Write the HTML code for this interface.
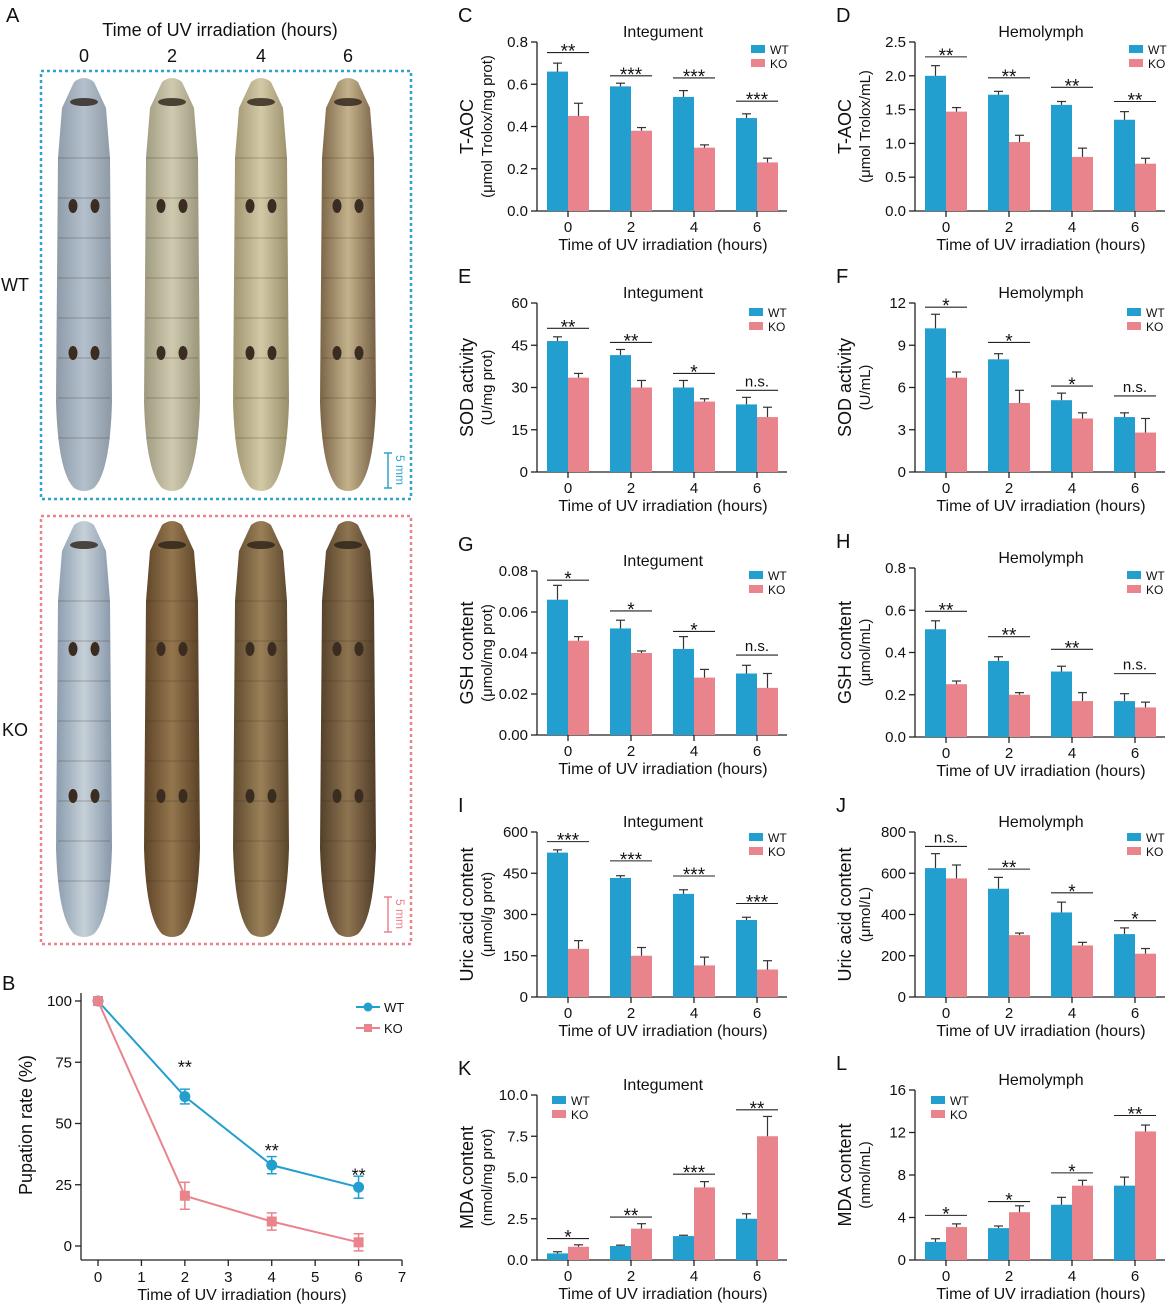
<!DOCTYPE html>
<html><head><meta charset="utf-8"><style>
html,body{margin:0;padding:0;background:#fff;}
svg{display:block;font-family:"Liberation Sans",Arial,sans-serif;}
</style></head><body>
<svg id="s" width="1169" height="1306" viewBox="0 0 1169 1306" xmlns="http://www.w3.org/2000/svg">
<defs>
<linearGradient id="gw0" x1="0" x2="1"><stop offset="0" stop-color="#8d9aa8"/><stop offset="0.5" stop-color="#b4c0cc"/><stop offset="1" stop-color="#8c98a4"/></linearGradient>
<linearGradient id="gw1" x1="0" x2="1"><stop offset="0" stop-color="#9e9a80"/><stop offset="0.5" stop-color="#cfcab0"/><stop offset="1" stop-color="#9a967c"/></linearGradient>
<linearGradient id="gw2" x1="0" x2="1"><stop offset="0" stop-color="#a09470"/><stop offset="0.5" stop-color="#d2c9a6"/><stop offset="1" stop-color="#9a8e6a"/></linearGradient>
<linearGradient id="gw3" x1="0" x2="1"><stop offset="0" stop-color="#7a6446"/><stop offset="0.5" stop-color="#c4b28c"/><stop offset="1" stop-color="#766044"/></linearGradient>
<linearGradient id="gk0" x1="0" x2="1"><stop offset="0" stop-color="#8a9cae"/><stop offset="0.5" stop-color="#c6d0d8"/><stop offset="1" stop-color="#8898aa"/></linearGradient>
<linearGradient id="gk1" x1="0" x2="1"><stop offset="0" stop-color="#5e4428"/><stop offset="0.5" stop-color="#94764e"/><stop offset="1" stop-color="#5a4226"/></linearGradient>
<linearGradient id="gk2" x1="0" x2="1"><stop offset="0" stop-color="#5e4a2e"/><stop offset="0.5" stop-color="#9a8058"/><stop offset="1" stop-color="#5a462c"/></linearGradient>
<linearGradient id="gk3" x1="0" x2="1"><stop offset="0" stop-color="#54402a"/><stop offset="0.5" stop-color="#8e7450"/><stop offset="1" stop-color="#503c28"/></linearGradient>
</defs>
<g id="g"></g>
</svg>
<script>
var B='#239fcf',P='#e9838c',out=[];
function T(x,y,s,sz,anc,extra){out.push('<text x="'+x+'" y="'+y+'" font-size="'+sz+'" text-anchor="'+(anc||'start')+'" fill="#111" '+(extra||'')+'>'+s+'</text>');}
function L(x1,y1,x2,y2,c,w){out.push('<line x1="'+x1+'" y1="'+y1+'" x2="'+x2+'" y2="'+y2+'" stroke="'+(c||'#222')+'" stroke-width="'+(w||1.3)+'"/>');}
function R(x,y,w,h,c){out.push('<rect x="'+x+'" y="'+y+'" width="'+w+'" height="'+h+'" fill="'+c+'"/>');}
// Panel A
T(6,22,'A',20);T(220,36,'Time of UV irradiation (hours)',18,'middle');
var cx=[84,172,261,348];['0','2','4','6'].forEach(function(t,i){T(cx[i],62,t,18,'middle');});
out.push('<rect x="41" y="71" width="370" height="428" fill="none" stroke="#2ea3cc" stroke-width="2.5" stroke-dasharray="3,3"/>');
out.push('<rect x="41" y="516" width="370" height="428" fill="none" stroke="#e9838c" stroke-width="2.5" stroke-dasharray="3,3"/>');
T(15,291,'WT',18,'middle');T(15,736,'KO',18,'middle');
function larva(x,y1,y2,g){out.push('<path d="M'+(x-10)+','+(y1+4)+' Q'+x+','+(y1-4)+' '+(x+10)+','+(y1+4)+' L'+(x+22)+','+(y1+30)+' L'+(x+26)+','+(y1+80)+' L'+(x+28)+','+(y2-90)+' Q'+(x+26)+','+(y2-20)+' '+(x+10)+','+(y2-4)+' Q'+x+','+(y2+2)+' '+(x-10)+','+(y2-4)+' Q'+(x-26)+','+(y2-20)+' '+(x-28)+','+(y2-90)+' L'+(x-26)+','+(y1+80)+' L'+(x-22)+','+(y1+30)+' Z" fill="url(#'+g+')"/>');
 out.push('<ellipse cx="'+x+'" cy="'+(y1+24)+'" rx="14" ry="4" fill="#2a2218" opacity="0.8"/>');
 var ys=[y1+128,y1+275];ys.forEach(function(yy){out.push('<ellipse cx="'+(x-11)+'" cy="'+yy+'" rx="4.5" ry="7" fill="#3a2c20"/><ellipse cx="'+(x+11)+'" cy="'+yy+'" rx="4.5" ry="7" fill="#3a2c20"/>');});
 for(var k=1;k<9;k++){var yy=y1+40+k*40;out.push('<line x1="'+(x-26)+'" y1="'+yy+'" x2="'+(x+26)+'" y2="'+yy+'" stroke="rgba(60,50,30,0.15)" stroke-width="2"/>');}}
['gw0','gw1','gw2','gw3'].forEach(function(g,i){larva(cx[i],78,492,g);});
['gk0','gk1','gk2','gk3'].forEach(function(g,i){larva(cx[i],521,938,g);});
L(388,453,388,488,'#2ea3cc',1.5);L(384,453,392,453,'#2ea3cc',1.5);L(384,488,392,488,'#2ea3cc',1.5);
T(396,470,'5 mm',12,'middle','transform="rotate(90 396 470)" style="fill:#2ea3cc"');
L(388,897,388,932,'#e9838c',1.5);L(384,897,392,897,'#e9838c',1.5);L(384,932,392,932,'#e9838c',1.5);
T(396,914,'5 mm',12,'middle','transform="rotate(90 396 914)" style="fill:#e9838c"');
// Panel B
T(2,990,'B',20);
var bx=function(v){return 98+v*43.43;},by=function(v){return 1246-v*2.45;};
L(81,993,81,1260);L(81,1260,402,1260);
[0,25,50,75,100].forEach(function(v){L(75,by(v),81,by(v));T(72,by(v)+5,v,15,'end');});
for(var i=0;i<=7;i++){L(bx(i),1260,bx(i),1266);T(bx(i),1282,i,15,'middle');}
T(242,1300,'Time of UV irradiation (hours)',16,'middle');
T(32,1125,'Pupation rate (%)',18,'middle','transform="rotate(-90 32 1125)"');
var xs=[0,2,4,6],wt=[[100,0],[61,3],[33,3.5],[24,4.5]],ko=[[100,0],[20.5,5.5],[10,3.5],[1.5,3.5]];
function line(d,c){var p=d.map(function(a,i){return bx(xs[i])+','+by(a[0]);}).join(' ');out.push('<polyline points="'+p+'" fill="none" stroke="'+c+'" stroke-width="2"/>');
 d.forEach(function(a,i){if(a[1]){var x=bx(xs[i]);L(x,by(a[0]+a[1]),x,by(a[0]-a[1]),c,1.5);L(x-5,by(a[0]+a[1]),x+5,by(a[0]+a[1]),c,1.5);L(x-5,by(a[0]-a[1]),x+5,by(a[0]-a[1]),c,1.5);}});}
line(ko,P);line(wt,B);
wt.forEach(function(a,i){out.push('<circle cx="'+bx(xs[i])+'" cy="'+by(a[0])+'" r="5.5" fill="'+B+'"/>');});
ko.forEach(function(a,i){out.push('<rect x="'+(bx(xs[i])-5)+'" y="'+(by(a[0])-5)+'" width="10" height="10" fill="'+P+'"/>');});
[[2,72],[4,38],[6,28]].forEach(function(s){T(bx(s[0]),by(s[1])+4,'**',18,'middle');});
L(356,1007,380,1007,B,2);out.push('<circle cx="368" cy="1007" r="4.5" fill="'+B+'"/>');T(384,1012,'WT',13);
L(356,1028,380,1028,P,2);R(364,1024,8,8,P);T(384,1033,'KO',13);
// Bar panels
function bar(o){var ax=o.ax,top=o.top,bot=o.bot,sc=(bot-top)/o.max;var y=function(v){return bot-v*sc;};
 T(ax-79,o.top-20,o.letter,20);T(ax+126,top-5,o.title,16,'middle');
 L(ax,top,ax,bot);L(ax,bot,ax+250,bot);
 o.ticks.forEach(function(t){var v=parseFloat(t);L(ax-6,y(v),ax,y(v));T(ax-9,y(v)+5,t,15,'end');});
 for(var i=0;i<4;i++){var c=ax+31+i*63;L(c,bot,c,bot+6);T(c,bot+21,2*i,15,'middle');
  [[o.wt[i],c-21,B],[o.ko[i],c,P]].forEach(function(q){var v=q[0][0],e=q[0][1];R(q[1],y(v),21,bot-y(v),q[2]);L(q[1]+10.5,y(v),q[1]+10.5,y(v+e),'#333',1.2);L(q[1]+6,y(v+e),q[1]+15,y(v+e),'#333',1.2);});
  var sy=y(o.sl[i]);L(c-21,sy,c+21,sy,'#222',1.1);var ns=o.sig[i]=='n.s.';T(c,sy-(ns?4:-5),o.sig[i],ns?15:19,'middle');}
 T(ax+126,bot+39,'Time of UV irradiation (hours)',16,'middle');
 var lx=ax-64,ly=(top+bot)/2;T(lx,ly,o.y1,18,'middle','transform="rotate(-90 '+lx+' '+ly+')"');
 T(lx+19,ly,o.y2,15,'middle','transform="rotate(-90 '+(lx+19)+' '+ly+')"');
 var gx=o.lg[0],gy=o.lg[1];R(gx,gy,14,8,B);T(gx+19,gy+9,'WT',12);R(gx,gy+14,14,8,P);T(gx+19,gy+23,'KO',12);}
var LX=537,RX=915,I='Integument',H='Hemolymph';
bar({ax:LX,top:42,bot:211,max:.8,ticks:['0.0','0.2','0.4','0.6','0.8'],letter:'C',title:I,y1:'T-AOC',y2:'(μmol Trolox/mg prot)',
 wt:[[.66,.04],[.59,.015],[.54,.03],[.44,.02]],ko:[[.45,.06],[.38,.015],[.30,.013],[.23,.02]],sig:['**','***','***','***'],sl:[.75,.64,.63,.52],lg:[751,45]});
bar({ax:RX,top:42,bot:211,max:2.5,ticks:['0.0','0.5','1.0','1.5','2.0','2.5'],letter:'D',title:H,y1:'T-AOC',y2:'(μmol Trolox/mL)',
 wt:[[2.0,.15],[1.72,.05],[1.57,.05],[1.35,.12]],ko:[[1.47,.06],[1.02,.1],[.8,.13],[.7,.08]],sig:['**','**','**','**'],sl:[2.28,1.97,1.83,1.62],lg:[1129,45]});
bar({ax:LX,top:303,bot:472,max:60,ticks:['0','15','30','45','60'],letter:'E',title:I,y1:'SOD activity',y2:'(U/mg prot)',
 wt:[[46.5,1.5],[41.5,2],[30,2.5],[24,2.5]],ko:[[33.5,1.5],[30,2.5],[25,1],[19.5,3.5]],sig:['**','**','*','n.s.'],sl:[51,46,35,29],lg:[749,308]});
bar({ax:RX,top:303,bot:472,max:12,ticks:['0','3','6','9','12'],letter:'F',title:H,y1:'SOD activity',y2:'(U/mL)',
 wt:[[10.2,1],[8,.4],[5.1,.5],[3.9,.3]],ko:[[6.7,.4],[4.9,.9],[3.8,.4],[2.8,1]],sig:['*','*','*','n.s.'],sl:[11.7,9.2,6.1,5.4],lg:[1127,308]});
bar({ax:LX,top:571,bot:735,max:.08,ticks:['0.00','0.02','0.04','0.06','0.08'],letter:'G',title:I,y1:'GSH content',y2:'(μmol/mg prot)',
 wt:[[.066,.007],[.052,.004],[.042,.006],[.030,.004]],ko:[[.046,.002],[.040,.001],[.028,.004],[.023,.007]],sig:['*','*','*','n.s.'],sl:[.0755,.0605,.0505,.039],lg:[749,571]});
bar({ax:RX,top:568,bot:737,max:.8,ticks:['0.0','0.2','0.4','0.6','0.8'],letter:'H',title:H,y1:'GSH content',y2:'(μmol/mL)',
 wt:[[.51,.04],[.36,.02],[.31,.025],[.17,.035]],ko:[[.25,.015],[.2,.01],[.17,.04],[.14,.025]],sig:['**','**','**','n.s.'],sl:[.595,.475,.415,.3],lg:[1127,571]});
bar({ax:LX,top:832,bot:997,max:600,ticks:['0','150','300','450','600'],letter:'I',title:I,y1:'Uric acid content',y2:'(μmol/g prot)',
 wt:[[525,10],[433,8],[375,15],[280,10]],ko:[[175,30],[150,30],[115,30],[100,32]],sig:['***','***','***','***'],sl:[565,495,440,340],lg:[749,833]});
bar({ax:RX,top:832,bot:997,max:800,ticks:['0','200','400','600','800'],letter:'J',title:H,y1:'Uric acid content',y2:'(μmol/L)',
 wt:[[625,70],[525,55],[410,50],[305,30]],ko:[[575,65],[300,10],[250,15],[210,25]],sig:['n.s.','**','*','*'],sl:[730,620,505,370],lg:[1127,833]});
bar({ax:LX,top:1095,bot:1260,max:10,ticks:['0.0','2.5','5.0','7.5','10.0'],letter:'K',title:I,y1:'MDA content',y2:'(nmol/mg prot)',
 wt:[[.4,.1],[.85,.05],[1.45,.05],[2.5,.3]],ko:[[.8,.12],[1.9,.3],[4.4,.35],[7.5,1.2]],sig:['*','**','***','**'],sl:[1.3,2.6,5.2,9.1],lg:[552,1096]});
bar({ax:RX,top:1090,bot:1260,max:16,ticks:['0','4','8','12','16'],letter:'L',title:H,y1:'MDA content',y2:'(nmol/mL)',
 wt:[[1.7,.3],[3,.2],[5.2,.7],[7,.8]],ko:[[3.1,.3],[4.5,.6],[7,.5],[12.1,.6]],sig:['*','*','*','**'],sl:[4.2,5.5,8.2,13.6],lg:[931,1096]});
document.getElementById('g').innerHTML=out.join('');
</script>
</body></html>
